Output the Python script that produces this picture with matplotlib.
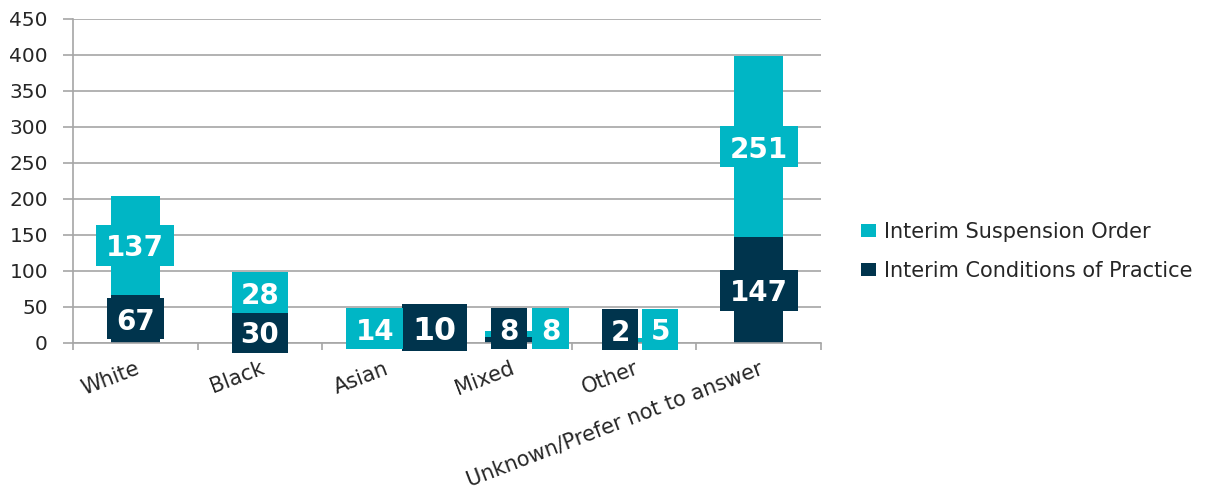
import matplotlib
matplotlib.use("Agg")
import matplotlib.pyplot as plt
from matplotlib.patches import Rectangle
import numpy as np

# Data
categories = ["White", "Black", "Asian", "Mixed", "Other", "Unknown/Prefer not to answer"]
conditions_of_practice = [67, 30, 10, 8, 2, 147]
suspension_order = [137, 28, 14, 8, 5, 251]
y_ticks = [0, 50, 100, 150, 200, 250, 300, 350, 400, 450]

CYAN = "#00B6C5"
NAVY = "#00344D"
GRID = "#A6A6A6"
TEXT = "#262626"

W_PX, H_PX, DPI = 1223, 493, 100
fig = plt.figure(figsize=(W_PX / DPI, H_PX / DPI), dpi=DPI)
ax = fig.add_axes([73 / W_PX, 1 - 343 / H_PX, (821 - 73) / W_PX, (343 - 19) / H_PX])

x = np.arange(len(categories))
bar_w = 0.39
ax.bar(x, conditions_of_practice, bar_w, color=NAVY, zorder=2,
       label="Interim Conditions of Practice")
ax.bar(x, suspension_order, bar_w, bottom=conditions_of_practice, color=CYAN, zorder=2,
       label="Interim Suspension Order")

ax.set_xlim(-0.5, len(categories) - 0.5)
ax.set_ylim(0, 450)
ax.set_yticks(y_ticks)
ax.yaxis.grid(True, color=GRID, linewidth=1.2, zorder=0)
ax.set_axisbelow(True)
for side in ("top", "right"):
    ax.spines[side].set_visible(False)
for side in ("left", "bottom"):
    ax.spines[side].set_color(GRID)
    ax.spines[side].set_linewidth(1.2)

ax.tick_params(axis="y", length=7, width=1.2, color=GRID, pad=11,
               labelsize=14.5, labelcolor=TEXT)
ax.set_xticks(x)
ax.set_xticks(np.arange(-0.5, len(categories)), minor=True)
ax.tick_params(axis="x", which="major", length=0, pad=11)
ax.tick_params(axis="x", which="minor", length=5, width=1.2, color=GRID)
ax.set_xticklabels(categories, rotation=21, ha="right", va="top",
                   rotation_mode="anchor", fontsize=15, color=TEXT)


# Value labels drawn as solid boxes with white bold numbers
def box_label(xc, yc, value, color, size=20, scale=1.0):
    digits = len(str(value))
    w = {1: 0.29, 2: 0.455, 3: 0.625}[digits] * scale
    h = 57 * scale
    ax.add_patch(Rectangle((xc - w / 2, yc - h / 2), w, h, facecolor=color,
                           edgecolor="none", zorder=3, clip_on=False))
    ax.text(xc, yc, str(value), ha="center", va="center_baseline", color="white",
            fontsize=size, fontweight="bold", family="DejaVu Sans", zorder=4,
            clip_on=False)


# Placement of labels that were nudged off the segment centres
icp_place = {2: (0.40, 21.5, 1.14), 3: (0.0, 20, 1.0), 4: (-0.11, 18.5, 1.0)}
iso_place = {1: (0.0, 69.5, 1.0), 2: (-0.08, 19.5, 1.0), 3: (0.33, 20, 1.0),
             4: (0.21, 19, 1.0)}

for i, (c, s) in enumerate(zip(conditions_of_practice, suspension_order)):
    dx, yc, sc = icp_place.get(i, (0.0, c / 2, 1.0))
    box_label(x[i] + dx, yc, c, NAVY, size=20 * sc, scale=sc)
    dx, yc, sc = iso_place.get(i, (0.0, c + s / 2, 1.0))
    box_label(x[i] + dx, yc, s, CYAN, size=20 * sc, scale=sc)

handles, labels = ax.get_legend_handles_labels()
leg = fig.legend(handles[::-1], labels[::-1], loc="center left",
                 bbox_to_anchor=(842 / W_PX, 1 - 251.5 / H_PX), frameon=False,
                 fontsize=15, handlelength=0.75, handleheight=0.6,
                 handletextpad=0.35, labelspacing=0.9, labelcolor=TEXT)

fig.savefig("out.png", dpi=DPI)
